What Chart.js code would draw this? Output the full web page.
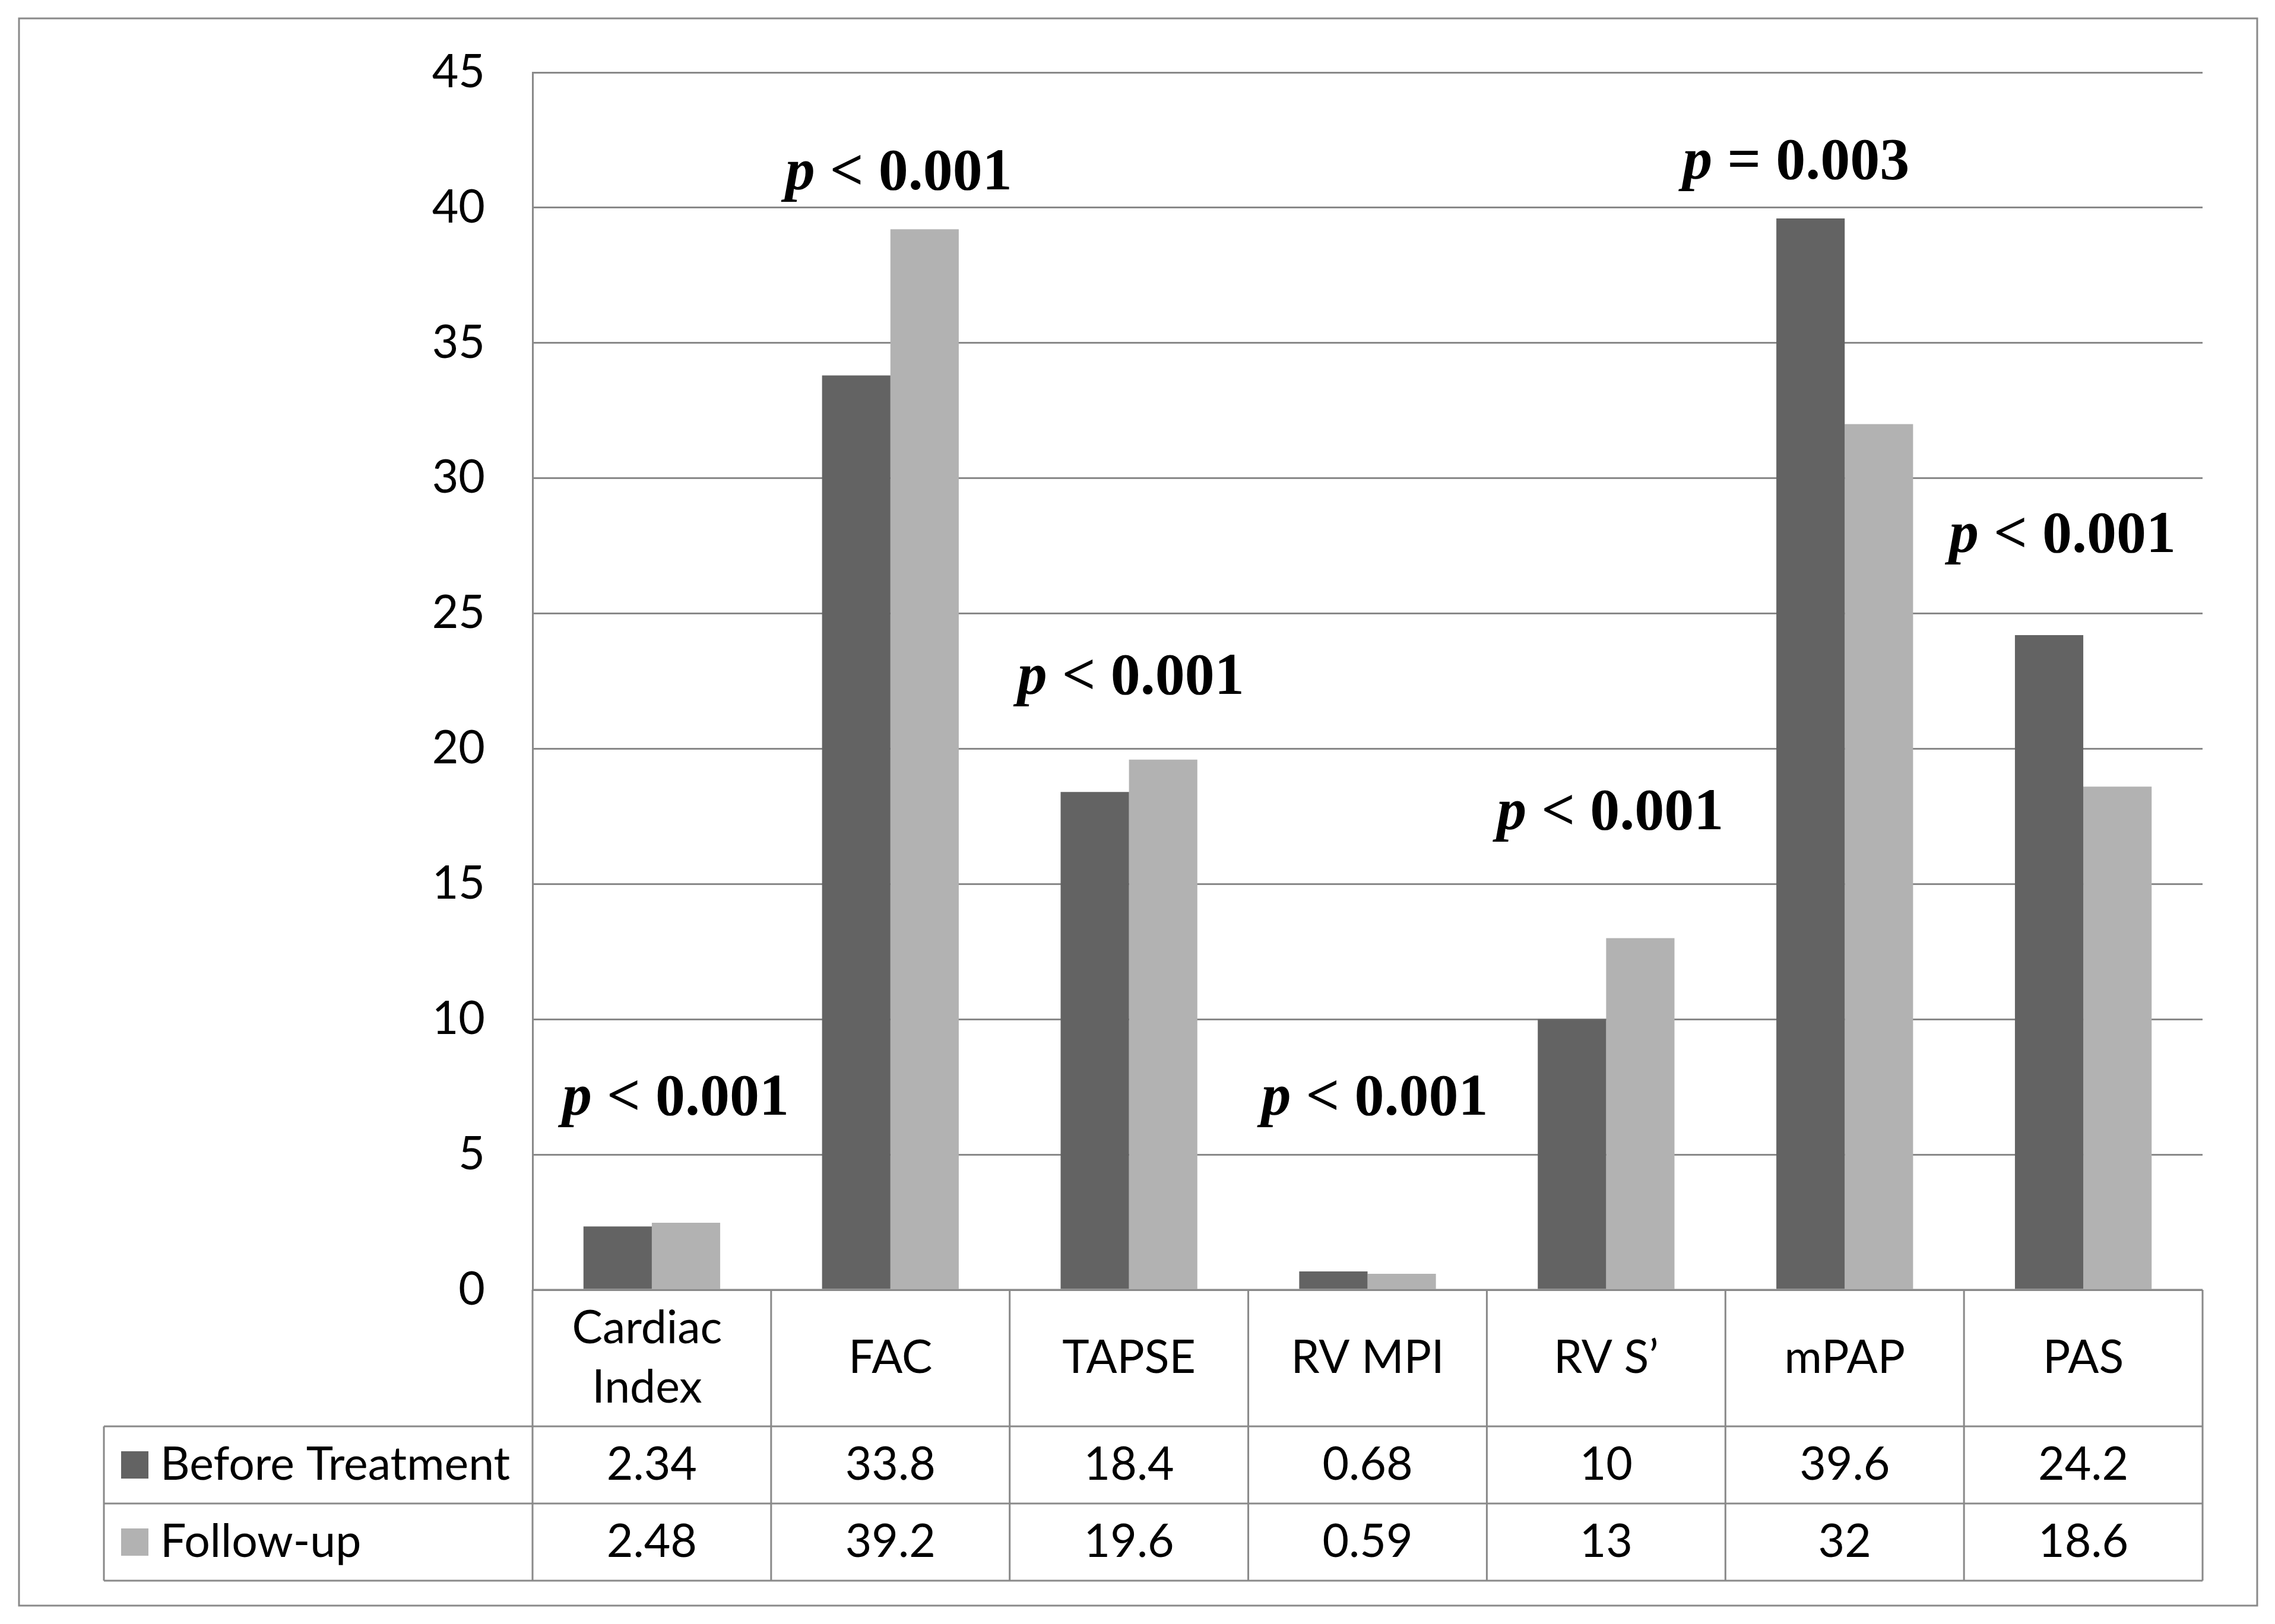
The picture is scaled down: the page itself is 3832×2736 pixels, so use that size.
<!DOCTYPE html>
<html>
<head>
<meta charset="utf-8">
<script src="https://cdn.jsdelivr.net/npm/chart.js@4.4.1/dist/chart.umd.min.js"></script>
<style>
    html, body { margin: 0; padding: 0; background: #ffffff; }
    canvas { display: block; }
</style>
</head>
<body>
<canvas id="grafico" width="3832" height="2736"></canvas>
<script>
// Datos del gráfico
const categorias = [['Cardiac', 'Index'], 'FAC', 'TAPSE', 'RV MPI', 'RV S\u2019', 'mPAP', 'PAS'];
const nombresSeries = ['Before Treatment', 'Follow-up'];
const antesTratamiento = [2.34, 33.8, 18.4, 0.68, 10, 39.6, 24.2];
const seguimiento = [2.48, 39.2, 19.6, 0.59, 13, 32, 18.6];

// Eje Y
const ejeMin = 0;
const ejeMax = 45;
const ejePaso = 5;

// Valores p sobre cada grupo (altura en unidades del eje)
const pSimbolos = ['<', '<', '<', '<', '<', '=', '<'];
const pValores = ['0.001', '0.001', '0.001', '0.001', '0.001', '0.003', '0.001'];
const pAlturas = [7.2, 41.4, 22.75, 7.2, 17.75, 41.8, 28.0];

// Estilos y medidas
const COLOR_OSCURO = '#636363';
const COLOR_CLARO = '#b2b2b2';
const COLOR_LINEA = '#898989';
const FUENTE = 'Lato, "Open Sans", sans-serif';
const TAM_TEXTO = 77;
const ALTO_CATEGORIA = 230;
const ALTO_FILA = 130;
const TABLA_IZQ = 175;
const pDesplazamiento = [40, 14, 3, 12, 7, -82, -35];

/**
 * Dibuja la tabla de datos bajo el gráfico, las etiquetas p y el marco
 */
const tablaDatos = {
    id: 'tablaDatos',
    afterDraw(chart) {
        const ctx = chart.ctx;
        const area = chart.chartArea;
        const escalaX = chart.scales.x;
        const escalaY = chart.scales.y;
        const ancho = (area.right - area.left) / categorias.length;
        const y0 = area.bottom;
        const y1 = y0 + ALTO_CATEGORIA;
        const y2 = y1 + ALTO_FILA;
        const y3 = y2 + ALTO_FILA;

        ctx.save();
        ctx.strokeStyle = COLOR_LINEA;
        ctx.lineWidth = 3;
        ctx.beginPath();
        ctx.moveTo(area.left, y0); ctx.lineTo(area.right, y0);
        ctx.moveTo(TABLA_IZQ, y1); ctx.lineTo(area.right, y1);
        ctx.moveTo(TABLA_IZQ, y2); ctx.lineTo(area.right, y2);
        ctx.moveTo(TABLA_IZQ, y3); ctx.lineTo(area.right, y3);
        for (let i = 0; i < categorias.length; i++) {
            const izq = escalaX.getPixelForValue(i) - ancho / 2;
            ctx.moveTo(izq, y0); ctx.lineTo(izq, y3);
        }
        ctx.moveTo(area.right, y0); ctx.lineTo(area.right, y3);
        ctx.moveTo(TABLA_IZQ, y1); ctx.lineTo(TABLA_IZQ, y3);
        ctx.stroke();

        // Marco exterior
        ctx.strokeRect(32, 31, 3770, 2674);

        // Textos de la tabla
        ctx.fillStyle = '#000000';
        ctx.font = TAM_TEXTO + 'px ' + FUENTE;
        ctx.textAlign = 'center';
        ctx.textBaseline = 'middle';
        const series = [antesTratamiento, seguimiento];
        categorias.forEach((cat, i) => {
            const cx = escalaX.getPixelForValue(i);
            const lineas = Array.isArray(cat) ? cat : [cat];
            const medio = (y0 + y1) / 2;
            lineas.forEach((texto, j) => {
                ctx.fillText(texto, cx - (lineas.length > 1 ? 8 : 0), medio + (j - (lineas.length - 1) / 2) * 100);
            });
            series.forEach((valores, s) => {
                ctx.fillText(String(valores[i]), cx, y1 + ALTO_FILA * (s + 0.5));
            });
        });

        // Leyenda en la tabla
        const colores = [COLOR_OSCURO, COLOR_CLARO];
        ctx.textAlign = 'left';
        nombresSeries.forEach((nombre, s) => {
            const cy = y1 + ALTO_FILA * (s + 0.5);
            ctx.fillStyle = colores[s];
            ctx.fillRect(204, cy - 23, 46, 46);
            ctx.fillStyle = '#000000';
            ctx.fillText(nombre, 270, cy);
        });

        // Etiquetas p
        pValores.forEach((valor, i) => {
            const cx = escalaX.getPixelForValue(i) + pDesplazamiento[i];
            const cy = escalaY.getPixelForValue(pAlturas[i]) + 7;
            const resto = ' ' + pSimbolos[i] + ' ' + valor;
            ctx.font = 'italic bold 100px "Liberation Serif", serif';
            const anchoP = ctx.measureText('p').width;
            ctx.font = 'bold 100px "Liberation Serif", serif';
            const anchoResto = ctx.measureText(resto).width;
            let x = cx - (anchoP + anchoResto) / 2;
            ctx.font = 'italic bold 100px "Liberation Serif", serif';
            ctx.fillText('p', x, cy);
            ctx.font = 'bold 100px "Liberation Serif", serif';
            ctx.fillText(resto, x + anchoP, cy);
        });
        ctx.restore();
    }
};

function initGrafico() {
    const canvas = document.getElementById('grafico');
    if (typeof Chart === 'undefined' || !canvas) {
        console.error('Chart.js o el canvas no están disponibles.');
        return null;
    }

    return new Chart(canvas, {
        type: 'bar',
        data: {
            labels: categorias,
            datasets: [{
                label: nombresSeries[0],
                data: antesTratamiento,
                backgroundColor: COLOR_OSCURO,
                borderWidth: 0
            }, {
                label: nombresSeries[1],
                data: seguimiento,
                backgroundColor: COLOR_CLARO,
                borderWidth: 0
            }]
        },
        options: {
            responsive: false,
            devicePixelRatio: 1,
            animation: false,
            layout: {
                padding: { top: 122, right: 122, bottom: 563, left: 0 }
            },
            datasets: {
                bar: { categoryPercentage: 0.573, barPercentage: 1.0 }
            },
            plugins: {
                legend: { display: false },
                tooltip: { enabled: false }
            },
            scales: {
                x: { display: false },
                y: {
                    min: ejeMin,
                    max: ejeMax,
                    afterFit(escala) {
                        // Ancho fijo del eje y sin relleno extra arriba/abajo
                        escala.width = 897;
                        escala.paddingTop = 0;
                        escala.paddingBottom = 0;
                    },
                    ticks: {
                        stepSize: ejePaso,
                        padding: 80,
                        color: '#000000',
                        font: { family: FUENTE, size: TAM_TEXTO }
                    },
                    grid: {
                        color: COLOR_LINEA,
                        lineWidth: 3,
                        drawTicks: false
                    },
                    border: { display: true, color: COLOR_LINEA, width: 3 }
                }
            }
        },
        plugins: [tablaDatos]
    });
}

initGrafico();
</script>
</body>
</html>
